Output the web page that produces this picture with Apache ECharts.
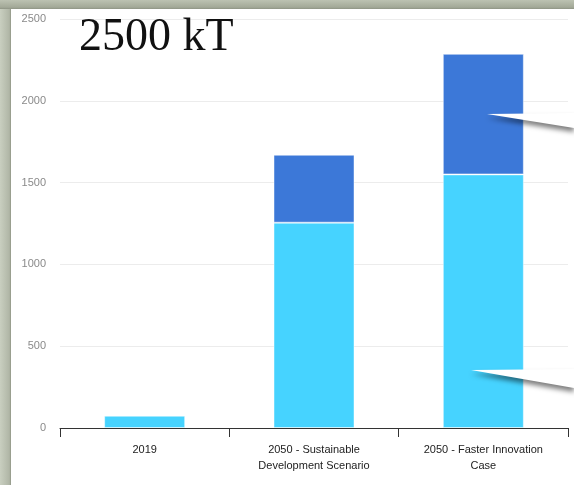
<!DOCTYPE html>
<html>
<head>
<meta charset="utf-8">
<script src="https://cdn.jsdelivr.net/npm/echarts@6/dist/echarts.min.js"></script>
<style>
html, body { margin: 0; padding: 0; background: #fff; }
#chart { width: 574px; height: 485px; }
</style>
</head>
<body>
<div id="chart"></div>
<script>
// data (kT)
var categories = ['2019', '2050 - Sustainable\nDevelopment Scenario', '2050 - Faster Innovation\nCase'];
var baseValues = [75, 1255, 1550];
var topValues = ['-', 415, 737];
var yTicks = [0, 500, 1000, 1500, 2000, 2500];

var chart = echarts.init(document.getElementById('chart'));

// callout wedges drawn over the right bar (decoration from the slide)
function wedge(tx, ty, dy) {
    return {
        type: 'polygon',
        z: 100,
        shape: { points: [[tx, ty], [574, ty - 1], [574, ty + dy]] },
        style: {
            fill: '#fff',
            shadowColor: 'rgba(0,0,0,0.5)',
            shadowBlur: 5,
            shadowOffsetY: 4
        }
    };
}

var option = {
    backgroundColor: '#fff',
    animation: false,
    grid: { left: 60, right: 6, top: 19, bottom: 57, containLabel: false },
    xAxis: {
        type: 'category',
        data: categories,
        axisLine: { show: true, lineStyle: { color: '#333', width: 1 } },
        axisTick: { show: true, length: 9, lineStyle: { color: '#333' } },
        axisLabel: {
            color: '#222',
            fontFamily: 'Liberation Sans, Arial, sans-serif',
            fontSize: 11,
            lineHeight: 16,
            margin: 14,
            interval: 0
        }
    },
    yAxis: {
        type: 'value',
        min: yTicks[0],
        max: yTicks[yTicks.length - 1],
        interval: 500,
        axisLine: { show: false },
        axisTick: { show: false },
        axisLabel: {
            color: '#8a8a8a',
            fontFamily: 'Liberation Sans, Arial, sans-serif',
            fontSize: 11,
            margin: 14,
            formatter: function (v) { return String(v); }
        },
        splitLine: { show: true, lineStyle: { color: '#ececec', width: 1 } }
    },
    series: [{
        name: 'base',
        type: 'bar',
        stack: 'total',
        barWidth: 81,
        itemStyle: { color: '#46d3ff', borderColor: 'rgba(255,255,255,0.45)', borderWidth: 1 },
        data: baseValues
    }, {
        name: 'top',
        type: 'bar',
        stack: 'total',
        barWidth: 81,
        itemStyle: { color: '#3c78d8', borderColor: 'rgba(255,255,255,0.45)', borderWidth: 1 },
        data: topValues
    }],
    graphic: [
        // slide frame
        {
            type: 'rect', z: 90, shape: { x: 0, y: 0, width: 11, height: 485 },
            style: { fill: new echarts.graphic.LinearGradient(0, 0, 1, 0, [
                { offset: 0, color: '#c9cfc0' }, { offset: 0.85, color: '#b0b6a6' }, { offset: 1, color: '#8f9585' }
            ]) }
        },
        {
            type: 'rect', z: 90, shape: { x: 0, y: 0, width: 574, height: 9 },
            style: { fill: new echarts.graphic.LinearGradient(0, 0, 0, 1, [
                { offset: 0, color: '#bcc2b2' }, { offset: 0.8, color: '#a3a998' }, { offset: 1, color: '#8e9484' }
            ]) }
        },
        {
            type: 'text', z: 95, x: 79, y: 38,
            style: {
                text: '2500 kT',
                fill: '#111',
                font: '46px "Liberation Serif", "DejaVu Serif", serif',
                verticalAlign: 'middle'
            }
        },
        wedge(487, 114, 14),
        wedge(471, 370, 18)
    ]
};

chart.setOption(option);
</script>
</body>
</html>
